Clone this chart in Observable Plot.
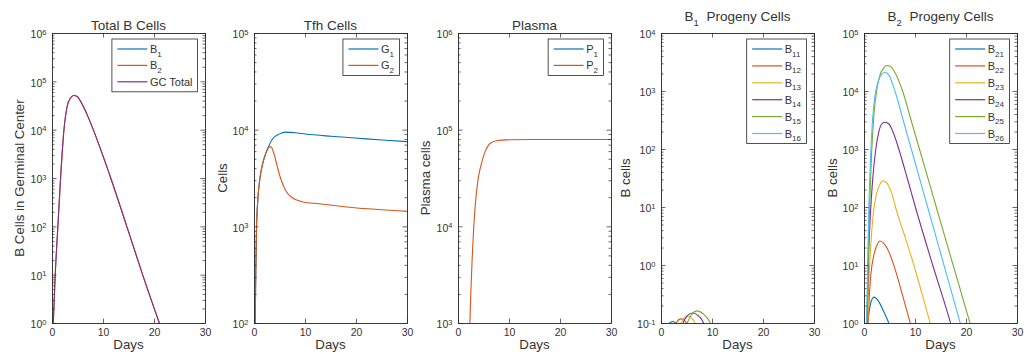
<!DOCTYPE html>
<html><head><meta charset="utf-8">
<script src="https://cdn.jsdelivr.net/npm/d3@7"></script>
<script src="https://cdn.jsdelivr.net/npm/@observablehq/plot@0.6"></script>
<style>
html,body{margin:0;padding:0;background:#fff;}
#chart{position:relative;width:1024px;height:354px;overflow:hidden;font-family:"Liberation Sans",Arial,Helvetica,sans-serif;font-weight:400;}
#chart svg{position:absolute;top:0;overflow:visible;}
</style></head><body><div id="chart"></div>
<script>
// ================= DATA =================
const xTicks = [0, 10, 20, 30];
const yExp1 = [0, 1, 2, 3, 4, 5, 6];
const yExp2 = [2, 3, 4, 5];
const yExp3 = [3, 4, 5, 6];
const yExp4 = [-1, 0, 1, 2, 3, 4];
const yExp5 = [0, 1, 2, 3, 4, 5];

// Panel 1: Total B cells  [day, cells]
const b1Total = []; // stays below 10^0 (not visible)
const gcTotal = [[0.05,0.5],[0.15,1],[0.53,10],[1.05,100],[1.58,1000],[2.24,10000],[2.9,32000],[3.5,45700],[4.2,52000],[4.9,49000],[5.5,39800],[6.2,28800],[7.0,18600],[8.03,10000],[11.45,1000],[14.6,100],[17.7,10],[20.98,1],[21.5,0.7]];
const b2Total = gcTotal; // B2 coincides with the GC total at this scale

// Panel 2: Tfh cells
const g1 = [[0.0,60],[0.13,100],[0.26,355],[0.39,930],[0.65,1900],[1.04,3100],[1.56,4400],[2.21,5750],[2.73,6700],[3.51,8100],[4.81,9100],[6.1,9550],[8.0,9400],[10.0,9120],[15.0,8650],[19.7,8300],[25.0,7900],[30.0,7600]];
const g2 = [[0.0,60],[0.13,100],[0.26,355],[0.39,930],[0.65,1900],[1.04,3100],[1.56,4400],[2.21,5750],[2.73,6550],[3.18,6760],[3.83,5690],[4.48,4170],[5.13,3160],[6.1,2380],[7.4,2000],[9.35,1820],[12.6,1730],[19.1,1585],[30.0,1445]];

// Panel 3: Plasma cells
const p1 = []; // below 10^3 (not visible)
const p2 = [[2.1,800],[2.22,1000],[2.42,2100],[2.68,4700],[3.0,10200],[3.4,19500],[3.86,31600],[4.38,42700],[5.16,58900],[6.14,72400],[7.45,77600],[9.4,79400],[15.0,80000],[30.0,80000]];

// Panel 4: B1 progeny cells
const b11 = [[1.5,0.1],[1.7,0.103],[1.85,0.106],[2.2,0.108],[2.55,0.106],[2.7,0.103],[2.9,0.1]];
const b12 = [[2.8,0.1],[3.05,0.108],[3.3,0.115],[3.8,0.12],[4.4,0.115],[4.7,0.108],[5.0,0.1]];
const b13 = [[3.8,0.1],[4.15,0.114],[4.5,0.125],[5.2,0.135],[5.9,0.125],[6.25,0.114],[6.6,0.1]];
const b14 = [[4.2,0.1],[4.6,0.12],[5.1,0.137],[6.1,0.152],[7.2,0.137],[7.8,0.12],[8.3,0.1]];
const b15 = [[5.0,0.1],[5.5,0.124],[6.0,0.146],[7.0,0.165],[8.2,0.146],[9.0,0.124],[9.6,0.1]];
const b16 = []; // below 10^-1 (not visible)

// Panel 5: B2 progeny cells
const b21 = [[0.45,0.8],[0.6,1],[0.9,1.6],[1.3,2.4],[1.88,2.85],[2.4,2.65],[2.86,2.34],[3.83,1.57],[4.8,1],[5.1,0.85]];
const b22 = [[0.55,0.8],[0.7,1],[0.95,3],[1.25,7],[1.88,15.8],[2.6,24],[3.0,26.5],[3.6,25],[4.8,17],[6.1,8.1],[7.4,3.2],[9.0,1],[9.4,0.75]];
const b23 = [[0.5,0.7],[0.6,1],[0.85,5],[1.2,20],[1.7,75],[2.3,165],[3.0,250],[3.64,288],[4.3,270],[4.8,230],[5.5,160],[6.1,100],[7.9,32],[9.7,10],[11.3,3.2],[12.9,1],[13.3,0.75]];
const b24 = [[0.4,0.6],[0.5,1],[0.75,10],[1.1,60],[1.6,300],[2.2,1000],[2.8,2000],[3.3,2700],[4.03,2950],[4.8,2750],[5.6,2000],[6.75,1000],[8.4,316],[10.0,100],[13.4,10],[16.9,1],[17.3,0.75]];
const b25 = [[0.35,0.6],[0.45,1],[0.7,10],[1.0,100],[1.4,900],[1.9,4500],[2.5,12000],[3.1,20000],[3.8,25800],[4.48,28000],[5.3,26000],[6.0,21000],[7.5,10000],[9.15,3160],[10.8,1000],[14.1,100],[17.4,10],[20.7,1],[21.1,0.75]];
const b26 = [[0.3,0.6],[0.4,1],[0.6,10],[0.85,100],[1.2,800],[1.6,3500],[2.1,9000],[2.7,15000],[3.3,19500],[4.03,21500],[4.8,19000],[6.0,10000],[7.6,3160],[9.2,1000],[12.4,100],[15.6,10],[18.8,1],[19.2,0.75]];

// ================= STYLE / LAYOUT =================
const AX = "#262626";
const TXT = "#333333";
const C = ["#0072BD", "#D95319", "#EDB120", "#7E2F8E", "#77AC30", "#4DBEEE"];
const PW = 153, ML = 50, MT = 33, MB = 31, H = 354;
const PH = H - MT - MB;

const panels = [
  {frameLeft: 52, exps: yExp1, title: [["Total B Cells"]], titleY: 30, ylabel: "B Cells in Germinal Center", ylabOff: 28,
   series: [{data: b1Total, label: ["B","1"], color: C[0]}, {data: b2Total, label: ["B","2"], color: C[1]}, {data: gcTotal, label: ["GC Total"], color: C[3]}]},
  {frameLeft: 254, exps: yExp2, title: [["Tfh Cells"]], titleY: 30, ylabel: "Cells", ylabOff: 27.5,
   series: [{data: g1, label: ["G","1"], color: C[0]}, {data: g2, label: ["G","2"], color: C[1]}]},
  {frameLeft: 458, exps: yExp3, title: [["Plasma"]], titleY: 30, ylabel: "Plasma cells", ylabOff: 28.5,
   series: [{data: p1, label: ["P","1"], color: C[0]}, {data: p2, label: ["P","2"], color: C[1]}]},
  {frameLeft: 661, exps: yExp4, title: [["B"],["1","sub"],["  Progeny Cells"]], titleY: 21, ylabel: "B cells", ylabOff: 31,
   series: [b11,b12,b13,b14,b15,b16].map((d,i) => ({data: d, label: ["B", "1" + (i+1)], color: C[i]}))},
  {frameLeft: 864, exps: yExp5, title: [["B"],["2","sub"],["  Progeny Cells"]], titleY: 21, ylabel: "B cells", ylabOff: 27.5,
   series: [b21,b22,b23,b24,b25,b26].map((d,i) => ({data: d, label: ["B", "2" + (i+1)], color: C[i]}))}
];

const chart = document.getElementById("chart");

function makePanel(p) {
  const majors = p.exps.map(e => Math.pow(10, e));
  const minors = [];
  p.exps.slice(0, -1).forEach(e => { for (let m = 2; m <= 9; m++) minors.push(m * Math.pow(10, e)); });
  const marks = [];
  p.series.forEach(s => marks.push(Plot.line(s.data, {x: d => d[0], y: d => d[1], stroke: s.color, strokeWidth: 1.1, curve: "monotone-x", clip: true})));
  const tk = {stroke: AX, strokeWidth: 0.7};
  marks.push(Plot.tickY(majors, {y: d => d, insetRight: PW - 4.5, ...tk}));
  marks.push(Plot.tickY(majors, {y: d => d, insetLeft: PW - 4.5, ...tk}));
  marks.push(Plot.tickY(minors, {y: d => d, insetRight: PW - 2.5, ...tk}));
  marks.push(Plot.tickY(minors, {y: d => d, insetLeft: PW - 2.5, ...tk}));
  marks.push(Plot.tickX(xTicks, {x: d => d, insetTop: PH - 4.5, ...tk}));
  marks.push(Plot.tickX(xTicks, {x: d => d, insetBottom: PH - 4.5, ...tk}));
  marks.push(Plot.frame({stroke: AX, strokeWidth: 0.9}));
  marks.push(Plot.axisY({ticks: majors, tickFormat: d => "10^" + Math.round(Math.log10(d)), tickSize: 0, tickPadding: 6, fontSize: 10.5, dy: 1.5, label: null}));
  marks.push(Plot.axisX({ticks: xTicks, tickFormat: d => String(d), tickSize: 0, tickPadding: 5, fontSize: 10.5, label: null}));
  const svg = Plot.plot({
    width: ML + PW + 1, height: H,
    marginLeft: ML, marginRight: 1, marginTop: MT, marginBottom: MB,
    x: {domain: [0, 30]},
    y: {type: "log", domain: [majors[0], majors[majors.length - 1]]},
    style: {background: "none", color: TXT, fontFamily: '"Liberation Sans", Arial, Helvetica, sans-serif', fontSize: "10.5px", fontWeight: "400", overflow: "visible", maxWidth: "none"},
    marks
  });
  svg.style.position = "absolute";
  svg.style.left = (p.frameLeft - ML) + "px";
  svg.style.top = "0px";
  chart.appendChild(svg);
  const S = d3.select(svg);

  // superscript tick labels
  S.selectAll('g[aria-label="y-axis tick label"] text').each(function () {
    const parts = this.textContent.split("^");
    const t = d3.select(this);
    t.text(null);
    t.append("tspan").text(parts[0]);
    t.append("tspan").attr("dy", "-0.5em").attr("font-size", "0.72em").text(parts[1]);
  });

  // title
  const tt = S.append("text").attr("x", ML + PW / 2).attr("y", p.titleY).attr("text-anchor", "middle")
    .attr("font-size", 13.5).attr("font-weight", 400).attr("fill", TXT).style("white-space", "pre");
  let shifted = 0;
  p.title.forEach(([str, kind]) => {
    const ts = tt.append("tspan").text(str);
    if (kind === "sub") { ts.attr("font-size", 9.5).attr("dy", 4.5); shifted = 4.5; }
    else if (shifted) { ts.attr("dy", -shifted); shifted = 0; }
  });

  // axis labels
  S.append("text").attr("x", ML + PW / 2).attr("y", 348.5).attr("text-anchor", "middle")
    .attr("font-size", 13.3).attr("font-weight", 400).attr("fill", TXT).text("Days");
  S.append("text").attr("transform", `translate(${ML - p.ylabOff},${MT + PH / 2}) rotate(-90)`)
    .attr("text-anchor", "middle").attr("font-size", 13.3).attr("font-weight", 400).attr("fill", TXT).text(p.ylabel);

  // legend
  const g = S.append("g");
  const n = p.series.length;
  const gap = n > 3 ? 16.9 : 16.4;
  const right = ML + PW - 7.5, top = MT + 6;
  const h = (n - 1) * gap + 20;
  const rect = g.append("rect");
  let maxW = 0;
  const items = p.series.map((s, i) => {
    const cy = top + 10 + i * gap;
    const line = g.append("line").attr("y1", cy).attr("y2", cy).attr("stroke", s.color).attr("stroke-width", 1.2);
    const t = g.append("text").attr("y", cy + 4).attr("text-anchor", "start").attr("font-size", 11).attr("font-weight", 400).attr("fill", TXT);
    t.append("tspan").text(s.label[0]);
    if (s.label[1]) t.append("tspan").attr("font-size", 8).attr("dy", 3.5).text(s.label[1]);
    maxW = Math.max(maxW, t.node().getBBox().width);
    return {line, t};
  });
  const w = 38 + maxW + 5;
  const left = right - w;
  rect.attr("x", left).attr("y", top).attr("width", w).attr("height", h)
    .attr("fill", "#fff").attr("stroke", AX).attr("stroke-width", 0.8);
  items.forEach(it => { it.line.attr("x1", left + 5.5).attr("x2", left + 35.5); it.t.attr("x", left + 38); });
}

panels.forEach(makePanel);
</script></body></html>
